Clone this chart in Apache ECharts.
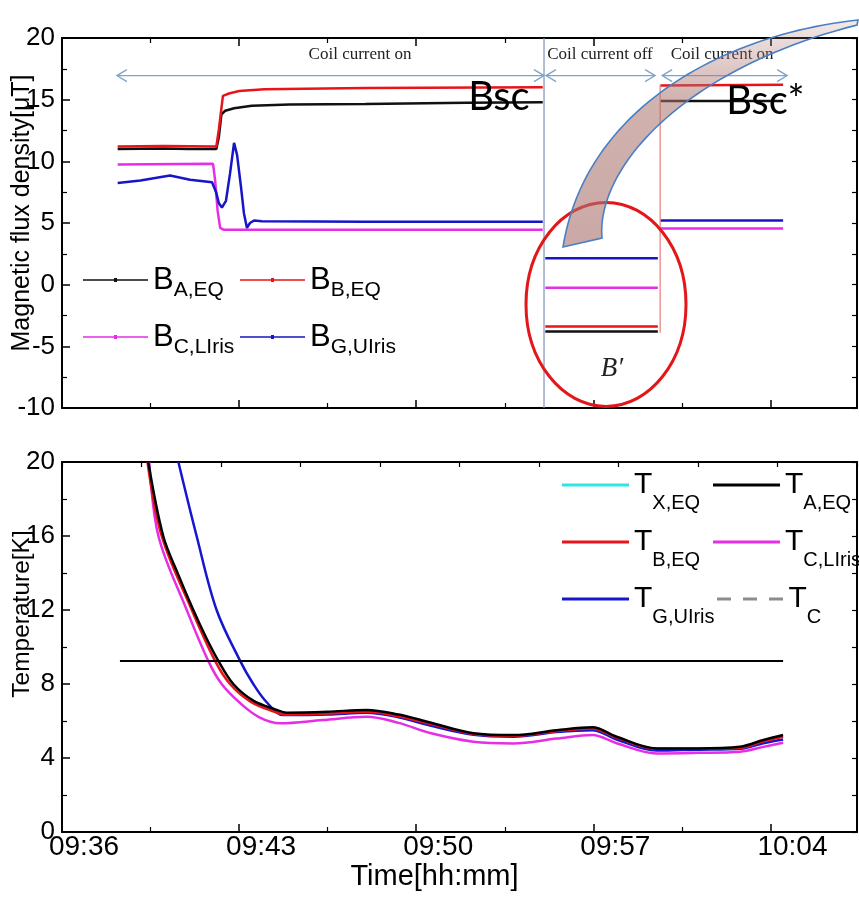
<!DOCTYPE html>
<html>
<head>
<meta charset="utf-8">
<script src="https://cdn.jsdelivr.net/npm/echarts@6.0.0/dist/echarts.min.js"></script>
<style>
  html, body { margin: 0; padding: 0; background: #fff; }
  #main { width: 859px; height: 908px; }
</style>
</head>
<body>
<div id="main"></div>
<script>
// time in minutes after 09:36
var startMin = 9 * 60 + 36;
var xMax = 31.42;

// magnetic flux density [uT], '-' = gap
var bA_EQ = [[2.2, 11.0], [4.0, 11.05], [5.0, 11.0], [6.1, 11.0], [6.2, 12.0], [6.3, 13.8], [6.45, 14.1], [6.8, 14.3], [7.5, 14.5], [9.0, 14.6], [12.0, 14.65], [16.0, 14.75], [19.0, 14.8],
    [19.02, '-'], [19.1, -3.8], [23.55, -3.8], [23.6, '-'], [23.65, 14.9], [28.5, 14.9]];
var bB_EQ = [[2.2, 11.2], [4.0, 11.25], [6.1, 11.2], [6.2, 12.6], [6.36, 15.3], [6.6, 15.5], [7.0, 15.7], [8.0, 15.85], [12.0, 15.95], [19.0, 16.0],
    [19.02, '-'], [19.1, -3.4], [23.55, -3.4], [23.6, '-'], [23.65, 16.15], [28.5, 16.2]];
var bC_LIris = [[2.2, 9.75], [5.97, 9.8], [6.05, 8.5], [6.15, 6.0], [6.25, 4.6], [6.4, 4.45], [12.0, 4.45], [19.0, 4.45],
    [19.02, '-'], [19.1, -0.25], [23.55, -0.25], [23.6, '-'], [23.65, 4.55], [28.5, 4.55]];
var bG_UIris = [[2.2, 8.25], [3.1, 8.45], [4.27, 8.85], [5.06, 8.5], [5.93, 8.3], [6.09, 7.5], [6.2, 6.6], [6.32, 6.25], [6.48, 6.8], [6.64, 9.0], [6.8, 11.5], [6.92, 10.5], [7.07, 8.0], [7.19, 5.8], [7.31, 4.6], [7.43, 5.0], [7.59, 5.2], [7.9, 5.15], [12.0, 5.1], [19.0, 5.1],
    [19.02, '-'], [19.1, 2.15], [23.55, 2.15], [23.6, '-'], [23.65, 5.2], [28.5, 5.2]];

// temperature [K]
var tX_EQ = [];
var tA_EQ = [[3.41, 20.0], [4.0, 16.0], [4.6, 13.9], [5.19, 12.0], [5.7, 10.5], [6.18, 9.25], [6.77, 8.0], [7.56, 7.1], [8.48, 6.6], [8.88, 6.45], [10.5, 6.5], [12.04, 6.6], [13.3, 6.35], [14.55, 5.92], [16.26, 5.34], [17.84, 5.24], [19.55, 5.5], [20.96, 5.66], [21.92, 5.15], [23.5, 4.52], [25.09, 4.52], [26.8, 4.61], [27.72, 4.97], [28.5, 5.24]];
var tB_EQ = [[3.38, 20.0], [3.94, 16.0], [5.13, 12.0], [6.05, 9.25], [6.64, 8.0], [7.45, 7.05], [8.4, 6.5], [8.9, 6.35], [10.5, 6.4], [12.04, 6.5], [13.3, 6.25], [14.55, 5.85], [16.26, 5.3], [17.84, 5.2], [19.55, 5.45], [20.96, 5.6], [21.92, 5.1], [23.5, 4.5], [25.09, 4.5], [26.8, 4.55], [27.72, 4.9], [28.5, 5.15]];
var tC_LIris = [[3.45, 20.0], [3.81, 16.0], [4.93, 12.0], [5.78, 9.25], [6.31, 8.0], [7.04, 6.97], [7.8, 6.2], [8.62, 5.88], [10.3, 6.05], [12.04, 6.23], [13.3, 5.9], [14.55, 5.35], [16.26, 4.88], [17.84, 4.79], [19.55, 5.05], [20.96, 5.24], [21.92, 4.8], [23.5, 4.25], [25.09, 4.28], [26.8, 4.34], [27.72, 4.6], [28.5, 4.82]];
var tG_UIris = [[4.6, 20.0], [5.32, 16.0], [6.11, 12.0], [7.04, 9.25], [7.56, 8.0], [8.1, 7.0], [8.75, 6.32], [10.5, 6.35], [12.04, 6.45], [13.3, 6.2], [14.55, 5.75], [16.26, 5.25], [17.84, 5.15], [19.55, 5.4], [20.96, 5.5], [21.92, 5.0], [23.5, 4.4], [25.09, 4.45], [26.8, 4.5], [27.72, 4.8], [28.5, 5.0]];
var tC = [[2.29, 9.25], [28.5, 9.25]];

var NARROW = '"Liberation Sans Narrow", "Liberation Sans", sans-serif';
var SANS = '"Liberation Sans", Arial, sans-serif';
var SERIF = '"Liberation Serif", "Times New Roman", serif';

function fmtTime(v) {
    var t = Math.round(startMin + v);
    var h = Math.floor(t / 60), m = t % 60;
    return (h < 10 ? '0' : '') + h + ':' + (m < 10 ? '0' : '') + m;
}

var black = { color: '#000', width: 2 };

function frameAxis(o) {
    var a = {
        type: 'value',
        axisLine: { show: true, onZero: false, lineStyle: black },
        axisTick: { show: true, inside: true, length: 8, lineStyle: { color: '#000', width: 1.5 } },
        minorTick: { show: false },
        axisLabel: { show: false },
        splitLine: { show: false }
    };
    for (var k in o) a[k] = o[k];
    return a;
}

function line(name, data, color, xi, yi, w) {
    return {
        name: name, type: 'line', data: data,
        xAxisIndex: xi, yAxisIndex: yi,
        showSymbol: false, symbol: 'none',
        color: color,
        lineStyle: { color: color, width: w },
        connectNulls: false,
        silent: true
    };
}

var topIcon = 'path://M0,1.3L65,1.3L65,2.7L0,2.7Z M31,0L34,0L34,4L31,4Z';
var dashIcon = 'path://M0,0L14,0L14,3L0,3Z M26,0L40,0L40,3L26,3Z M52,0L66,0L66,3L52,3Z';

function subFmt(name) {
    var p = name.split('_');
    return '{b|' + p[0] + '}{s|' + p[1] + '}';
}

function legendAt(item, left, top, big) {
    var l = {
        data: [item], left: left, top: top, padding: 0,
        selectedMode: false,
        formatter: subFmt,
        itemStyle: { borderWidth: 0 },
        textStyle: { color: '#000', rich: {} }
    };
    if (big) {
        l.itemWidth = 65; l.itemHeight = 4;
        l.textStyle.rich = {
            b: { fontFamily: SANS, fontSize: 31, lineHeight: 40, verticalAlign: 'middle', color: '#000' },
            s: { fontFamily: NARROW, fontSize: 21, lineHeight: 21, padding: [20, 0, 0, 0], verticalAlign: 'top', color: '#000' }
        };
    } else {
        l.itemWidth = 67; l.itemHeight = 3;
        l.textStyle.rich = {
            b: { fontFamily: SANS, fontSize: 30, lineHeight: 56, verticalAlign: 'middle', color: '#000' },
            s: { fontFamily: NARROW, fontSize: 20, lineHeight: 20, padding: [36, 0, 0, 0], verticalAlign: 'top', color: '#000' }
        };
    }
    return l;
}

var minor = { show: true, splitNumber: 2, length: 5, lineStyle: { color: '#000', width: 1.2 } };
var plainTick = { show: true, inside: true, length: 5, lineStyle: { color: '#000', width: 1.2 } };

var option = {
    animation: false,
    backgroundColor: '#fff',
    grid: [
        { left: 62, right: 2, top: 38, height: 370, containLabel: false, outerBoundsMode: 'none' },
        { left: 62, right: 2, top: 462, height: 370, containLabel: false, outerBoundsMode: 'none' }
    ],
    xAxis: [
        frameAxis({ gridIndex: 0, min: 0, max: xMax, interval: 7, minorTick: minor }),
        frameAxis({ gridIndex: 0, position: 'top', min: 0, max: xMax, interval: 7, minorTick: minor }),
        frameAxis({ gridIndex: 1, min: 0, max: xMax, interval: 7, minorTick: minor,
            axisLabel: { show: true, showMaxLabel: false, formatter: fmtTime, color: '#000', fontFamily: NARROW, fontSize: 28,
                align: 'center', padding: [0, 0, 0, 44], margin: 1 },
            name: 'Time[hh:mm]', nameLocation: 'middle', nameGap: 30, nameMoveOverlap: false,
            nameTextStyle: { color: '#000', fontFamily: SANS, fontSize: 29, padding: [0, 50, 0, 0] } }),
        frameAxis({ gridIndex: 1, position: 'top', min: 0, max: 10, interval: 1, axisTick: plainTick })
    ],
    yAxis: [
        frameAxis({ gridIndex: 0, min: -10, max: 20, interval: 5, minorTick: minor,
            axisLabel: { show: true, color: '#000', fontFamily: NARROW, fontSize: 26, margin: 7 },
            name: 'Magnetic flux density[\u03bcT]', nameLocation: 'middle', nameGap: 27, nameMoveOverlap: false,
            nameTextStyle: { color: '#000', fontFamily: SANS, fontSize: 25, padding: [0, 0, 0, 20] } }),
        frameAxis({ gridIndex: 0, position: 'right', min: 0, max: 12, interval: 1, axisTick: plainTick }),
        frameAxis({ gridIndex: 1, min: 0, max: 20, interval: 4, minorTick: minor,
            axisLabel: { show: true, color: '#000', fontFamily: NARROW, fontSize: 26, margin: 7 },
            name: 'Temperature[K]', nameLocation: 'middle', nameGap: 27, nameMoveOverlap: false,
            nameTextStyle: { color: '#000', fontFamily: SANS, fontSize: 24.5, padding: [0, 0, 0, 66] } }),
        frameAxis({ gridIndex: 1, position: 'right', min: 0, max: 10, interval: 1, axisTick: plainTick })
    ],
    legend: [
        legendAt({ name: 'B_A,EQ', icon: topIcon }, 83, 260, true),
        legendAt({ name: 'B_B,EQ', icon: topIcon }, 240, 260, true),
        legendAt({ name: 'B_C,LIris', icon: topIcon }, 83, 317, true),
        legendAt({ name: 'B_G,UIris', icon: topIcon }, 240, 317, true),
        legendAt({ name: 'T_X,EQ', icon: 'rect' }, 562, 457, false),
        legendAt({ name: 'T_A,EQ', icon: 'rect' }, 713, 457, false),
        legendAt({ name: 'T_B,EQ', icon: 'rect' }, 562, 514, false),
        legendAt({ name: 'T_C,LIris', icon: 'rect' }, 713, 514, false),
        legendAt({ name: 'T_G,UIris', icon: 'rect' }, 562, 571, false),
        legendAt({ name: 'T_C', icon: dashIcon, itemStyle: { color: '#8c8c8c' } }, 717, 571, false)
    ],
    series: [
        line('B_C,LIris', bC_LIris, '#e62ee6', 0, 0, 2.5),
        line('B_G,UIris', bG_UIris, '#1616c8', 0, 0, 2.5),
        line('B_A,EQ', bA_EQ, '#111111', 0, 0, 2.5),
        line('B_B,EQ', bB_EQ, '#e8141a', 0, 0, 2.5),
        line('T_X,EQ', tX_EQ, '#33e3e3', 2, 2, 2.5),
        line('T_C,LIris', tC_LIris, '#e62ee6', 2, 2, 2.5),
        line('T_G,UIris', tG_UIris, '#1616d0', 2, 2, 2.5),
        line('T_B,EQ', tB_EQ, '#e8141a', 2, 2, 2.5),
        line('T_A,EQ', tA_EQ, '#000000', 2, 2, 2.5),
        line('T_C', tC, '#000000', 2, 2, 2)
    ]
};
option.series.forEach(function (s) { if (s.yAxisIndex === 2) s.smooth = 0.35; });

var chart = echarts.init(document.getElementById('main'));
chart.setOption(option);

// annotations, positioned in data units of the upper plot
function px(x, y) { return chart.convertToPixel({ xAxisIndex: 0, yAxisIndex: 0 }, [x, y]); }

var spans = [[2.17, 19.05], [19.13, 23.44], [23.72, 28.66]];
var spanLabels = [['Coil current on', 11.78], ['Coil current off', 21.26], ['Coil current on', 26.09]];
var spanY = 16.95, labelY = 18.65;
var arrowColor = '#7fa3cc';

var g = [];
spans.forEach(function (s) {
    var a = px(s[0], spanY), b = px(s[1], spanY);
    g.push({ type: 'line', z: 20, shape: { x1: a[0], y1: a[1], x2: b[0], y2: b[1] }, style: { stroke: arrowColor, lineWidth: 1.3 } });
    g.push({ type: 'polyline', z: 20, shape: { points: [[a[0] + 10, a[1] - 6], [a[0], a[1]], [a[0] + 10, a[1] + 6]] }, style: { stroke: arrowColor, lineWidth: 1.3, fill: null } });
    g.push({ type: 'polyline', z: 20, shape: { points: [[b[0] - 10, b[1] - 6], [b[0], b[1]], [b[0] - 10, b[1] + 6]] }, style: { stroke: arrowColor, lineWidth: 1.3, fill: null } });
});
spanLabels.forEach(function (t) {
    var p = px(t[1], labelY);
    g.push({ type: 'text', z: 20, x: p[0], y: p[1], style: { text: t[0], font: '17px ' + SERIF, fill: '#222', align: 'center', verticalAlign: 'middle' } });
});

var v1a = px(19.05, 20), v1b = px(19.05, -10);
g.push({ type: 'line', z: 15, shape: { x1: v1a[0], y1: v1a[1], x2: v1b[0], y2: v1b[1] }, style: { stroke: '#8193bb', lineWidth: 1.2 } });
var v2a = px(23.64, 16.2), v2b = px(23.64, -3.9);
g.push({ type: 'line', z: 15, shape: { x1: v2a[0], y1: v2a[1], x2: v2b[0], y2: v2b[1] }, style: { stroke: '#e87a7a', lineWidth: 1.2 } });

var bsc = px(17.27, 15.2), bsc2 = px(27.8, 14.85);
g.push({ type: 'text', z: 21, x: bsc[0], y: bsc[1], style: { text: 'Bsc', font: '40px Lato, "Open Sans", sans-serif', fill: '#000', align: 'center', verticalAlign: 'middle' } });
g.push({ type: 'text', z: 21, x: bsc2[0], y: bsc2[1], style: { text: 'Bsc*', font: '40px Lato, "Open Sans", sans-serif', fill: '#000', align: 'center', verticalAlign: 'middle' } });

var ec = px(21.5, -1.6);
g.push({ type: 'ellipse', z: 22, shape: { cx: ec[0], cy: ec[1], rx: 80, ry: 102 }, style: { fill: null, stroke: '#e3161a', lineWidth: 3 } });
var bp = px(21.74, -6.8);
g.push({ type: 'text', z: 22, x: bp[0], y: bp[1], style: { text: 'B\u2032', font: 'italic 27px ' + SERIF, fill: '#222', align: 'center', verticalAlign: 'middle' } });

// curved callout arrow (pixel outline sampled from two cubic curves)
function cubic(p0, p1, p2, p3, n) {
    var pts = [];
    for (var i = 0; i <= n; i++) {
        var t = i / n, u = 1 - t;
        pts.push([
            u * u * u * p0[0] + 3 * u * u * t * p1[0] + 3 * u * t * t * p2[0] + t * t * t * p3[0],
            u * u * u * p0[1] + 3 * u * u * t * p1[1] + 3 * u * t * t * p2[1] + t * t * t * p3[1]
        ]);
    }
    return pts;
}
var outer = cubic([858, 20], [720, 35], [585, 110], [563, 247], 48);
var inner = cubic([602, 238], [596, 170], [680, 70], [857, 25], 48);
g.push({
    type: 'polygon', z: 25,
    shape: { points: outer.concat(inner) },
    style: {
        fill: new echarts.graphic.LinearGradient(0, 0, 0, 1, [
            { offset: 0, color: 'rgba(170,115,110,0.15)' },
            { offset: 0.35, color: 'rgba(170,115,110,0.55)' },
            { offset: 1, color: 'rgba(170,115,110,0.62)' }
        ]),
        stroke: '#4a7fc4', lineWidth: 1.6
    }
});

chart.setOption({ graphic: g });
</script>
</body>
</html>
